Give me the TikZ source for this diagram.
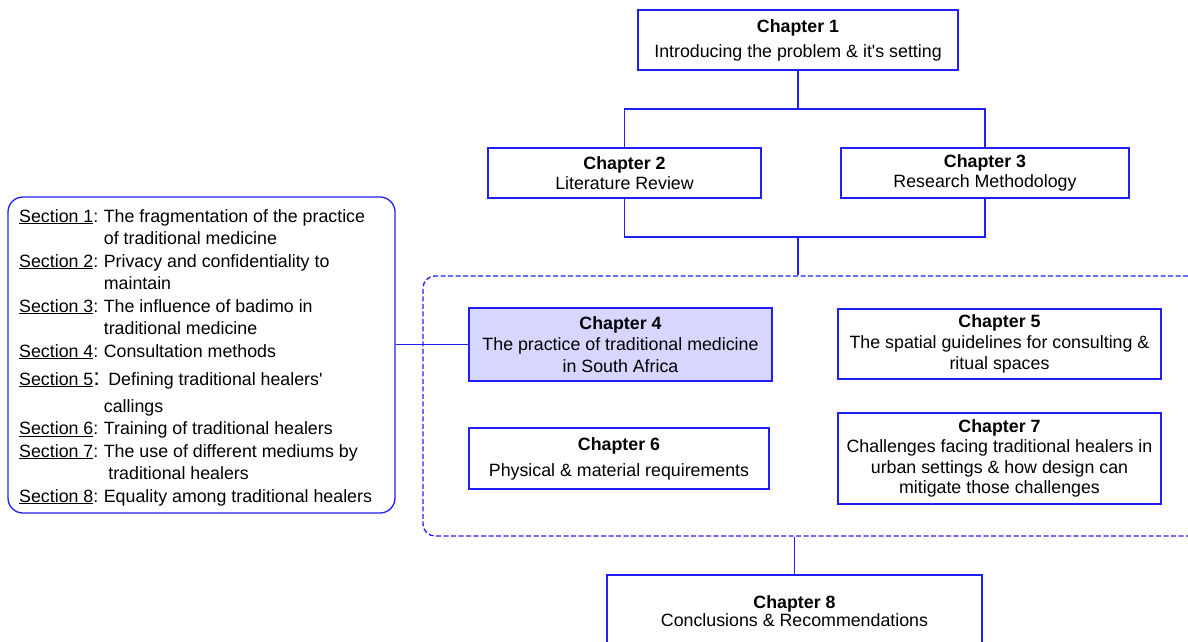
\documentclass[tikz,border=0pt]{standalone}
\usepackage{fontspec}
\setmainfont{Liberation Sans}
\definecolor{edgeblue}{RGB}{30,30,245}
\definecolor{focusfill}{RGB}{214,214,255}
\begin{document}
\begin{tikzpicture}[x=1pt,y=-1pt,
  every node/.style={font=\fontsize{17.8}{21}\selectfont, text=black},
  chapbox/.style={draw=edgeblue, line width=1.3pt, rectangle, align=center, inner sep=0pt},
  groupbox/.style={draw=edgeblue, line width=1.3pt, dash pattern=on 5pt off 2.5pt, rounded corners=12pt, inner sep=0pt},
  listbox/.style={draw=edgeblue, line width=1.3pt, rounded corners=15pt, inner sep=0pt},
  link/.style={draw=edgeblue, line width=1.3pt},
]
\clip (0,0) rectangle (1188,641);

% dashed frame around chapters 4 to 7
\node[groupbox, minimum width=777, minimum height=260] (grp) at (811.5,406) {};

% chapter boxes
\node[chapbox, minimum width=320, minimum height=60] (ch1) at (798,40)
  {\textbf{Chapter 1}\\[4pt] Introducing the problem \& it\textquotesingle s setting};
\node[chapbox, minimum width=273, minimum height=50] (ch2) at (624.5,173)
  {\textbf{Chapter 2}\\[-1pt] Literature Review};
\node[chapbox, minimum width=288, minimum height=50] (ch3) at (985,173)
  {\textbf{Chapter 3}\\[-1pt] Research Methodology};
\node[chapbox, fill=focusfill, minimum width=303, minimum height=73] (ch4) at (620.5,344.5)
  {\textbf{Chapter 4}\\[0.5pt] The practice of traditional medicine\\[0.5pt] in South Africa};
\node[chapbox, minimum width=323, minimum height=70] (ch5) at (999.5,344)
  {\textbf{Chapter 5}\\ The spatial guidelines for consulting \&\\ ritual spaces};
\node[chapbox, minimum width=300, minimum height=61] (ch6) at (619,458.5)
  {\textbf{Chapter 6}\\[5pt] Physical \& material requirements};
\node[chapbox, minimum width=323, minimum height=91] (ch7) at (999.5,458.5)
  {\textbf{Chapter 7}\\[-0.7pt] Challenges facing traditional healers in\\[-0.7pt]
   urban settings \& how design can\\[-0.7pt] mitigate those challenges};
\node[chapbox, minimum width=375, minimum height=73] (ch8) at (794.5,611.5)
  {\textbf{Chapter 8}\\[-3pt] Conclusions \& Recommendations};

% list of sections of chapter 4
\node[listbox, minimum width=387, minimum height=316] (sec) at (201.5,355) {};
\node[anchor=base west, inner sep=0pt, font=\fontsize{17.8}{22.5}\selectfont] (sectxt) at (19,222) {%
  \begin{tabular}[t]{@{}l@{\hspace{5.5pt}}l@{}}
  \underline{Section 1}: & The fragmentation of the practice\\
   & of traditional medicine\\
  \underline{Section 2}: & Privacy and confidentiality to\\
   & maintain\\
  \underline{Section 3}: & The influence of badimo in\\
   & traditional medicine\\
  \underline{Section 4}: & Consultation methods\\[5.5pt]
  \underline{Section 5}\makebox[4.9pt][l]{\fontsize{24}{24}\selectfont:} & \hspace{4.5pt}Defining traditional healers\textquotesingle\\[4.5pt]
   & callings\\
  \underline{Section 6}: & Training of traditional healers\\
  \underline{Section 7}: & The use of different mediums by\\
   & \hspace{4.5pt}traditional healers\\
  \underline{Section 8}: & Equality among traditional healers
  \end{tabular}};

% connectors
\coordinate (j1) at (798,109);
\coordinate (j2) at (798,237);
\draw[link] (ch1.south) -- (j1);
\draw[link] (ch2.north) |- (j1) -| (ch3.north);
\draw[link] (ch2.south) |- (j2) -| (ch3.south);
\draw[link] (j2) -- (j2 |- grp.north);
\draw[link] (ch8.north |- grp.south) -- (ch8.north);
\draw[link] (sec.east |- ch4.west) -- (ch4.west);
\end{tikzpicture}
\end{document}
